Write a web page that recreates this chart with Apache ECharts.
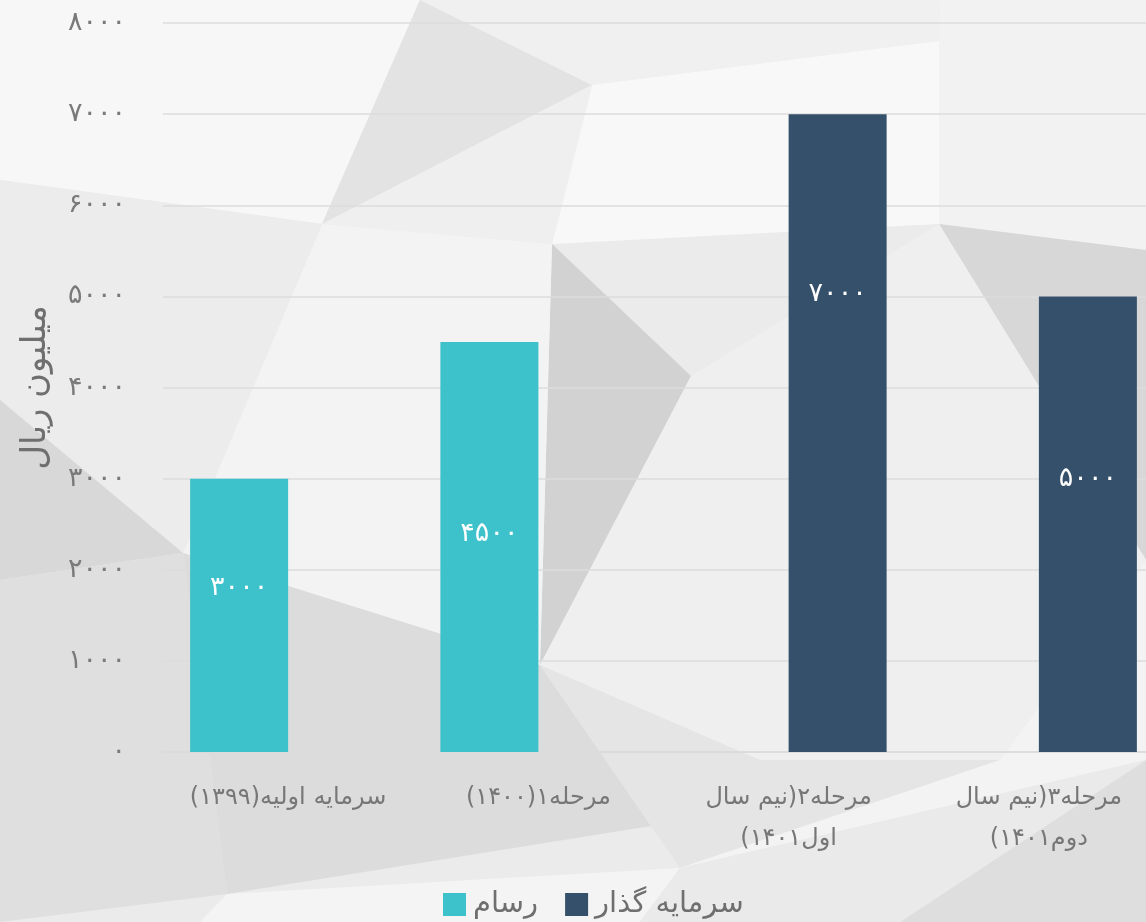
<!DOCTYPE html>
<html>
<head>
<meta charset="utf-8">
<script src="https://cdn.jsdelivr.net/npm/echarts@6/dist/echarts.min.js"></script>
<style>
html,body{margin:0;padding:0;background:#ebebeb;}
#chart{width:1146px;height:922px;}
</style>
</head>
<body>
<div id="chart" dir="rtl"></div>
<script>
const categories = ['سرمایه اولیه(۱۳۹۹)', 'مرحله۱(۱۴۰۰)', 'مرحله۲(نیم سال\nاول۱۴۰۱)', 'مرحله۳(نیم سال\nدوم۱۴۰۱)'];
const rasamValues = [3000, 4500, null, null];
const investorValues = [null, null, 7000, 5000];
const seriesNames = ['رسام', 'سرمایه گذار'];
const yAxisTitle = 'میلیون ریال';
const yMin = 0, yMax = 8000, yStep = 1000;

const faDigits = '۰۱۲۳۴۵۶۷۸۹';
function toFa(v){ return String(v).replace(/\d/g, d => faDigits[+d]); }

const FONT = "'DejaVu Sans', sans-serif";

// background decoration (low-poly pattern)
const bgPolys = [
  [[[0,0],[1146,0],[1146,922],[0,922]], '#ebebeb'],
  [[[0,0],[420,0],[322,224],[0,180]], '#f7f7f7'],
  [[[420,0],[592,85],[322,224]], '#e3e3e3'],
  [[[420,0],[940,0],[939,41],[592,85]], '#f0f0f0'],
  [[[940,0],[1146,0],[1146,250],[939,224],[939,41]], '#f2f2f2'],
  [[[592,85],[939,41],[939,224],[552,244]], '#f8f8f8'],
  [[[322,224],[552,244],[592,85]], '#efefef'],
  [[[552,244],[691,376],[540,665]], '#d2d2d2'],
  [[[322,224],[552,244],[540,665],[183,553]], '#f3f3f3'],
  [[[0,180],[322,224],[183,553],[0,400]], '#ececec'],
  [[[0,400],[183,553],[0,580]], '#d8d8d8'],
  [[[0,580],[183,553],[227,894],[0,922]], '#dfdfdf'],
  [[[939,224],[1146,250],[1146,560]], '#d7d7d7'],
  [[[691,376],[939,224],[1146,560],[1000,760],[760,760],[540,665]], '#efefef'],
  [[[183,553],[540,665],[651,826],[227,894]], '#dcdcdc'],
  [[[540,665],[760,760],[1000,760],[680,868],[651,826]], '#e5e5e5'],
  [[[1146,560],[1146,760],[680,868],[1000,760]], '#f3f3f3'],
  [[[1146,760],[1146,922],[900,922]], '#dedede'],
  [[[227,894],[680,868],[640,922],[200,922]], '#f4f4f4'],
  [[[680,868],[1146,760],[900,922],[640,922]], '#eaeaea']
];

const labelShift = { 0: -27, 1: -13, 2: -139, 3: -45 };
function buildData(values){
  return values.map((v, i) => v == null ? null : ({ value: v, label: { offset: [0, labelShift[i]] } }));
}

const chart = echarts.init(document.getElementById('chart'));
chart.setOption({
  backgroundColor: '#ebebeb',
  graphic: bgPolys.map(p => ({
    type: 'polygon', silent: true, z: -100,
    shape: { points: p[0] }, style: { fill: p[1] }
  })),
  grid: { left: 163, width: 1001, top: 23, bottom: 170, containLabel: false, outerBoundsMode: 'none' },
  legend: {
    data: seriesNames,
    top: 885, left: 438,
    itemWidth: 23, itemHeight: 23, itemGap: 27,
    icon: 'rect',
    textStyle: { fontFamily: FONT, fontSize: 29, color: '#6f6f6f', padding: [0, 0, 0, 2] }
  },
  xAxis: {
    type: 'category', data: categories,
    axisLine: { show: true, lineStyle: { color: '#dadada', width: 1.5 } },
    axisTick: { show: false },
    axisLabel: { fontFamily: FONT, fontSize: 24, color: '#777777', margin: 25, lineHeight: 41, interval: 0 }
  },
  yAxis: {
    type: 'value', min: yMin, max: yMax, interval: yStep,
    name: yAxisTitle, nameLocation: 'middle', nameGap: 110,
    nameTextStyle: { fontFamily: FONT, fontSize: 34, color: '#6f6f6f' },
    axisLine: { show: false }, axisTick: { show: false },
    axisLabel: { fontFamily: FONT, fontSize: 27, color: '#7a7a7a', margin: 37, formatter: v => toFa(v) },
    splitLine: { lineStyle: { color: '#dcdcdc', width: 1.5 } }
  },
  series: [
    {
      name: seriesNames[0], type: 'bar', data: buildData(rasamValues),
      barWidth: 98, barGap: '0%',
      itemStyle: { color: '#3dc1ca' },
      label: { show: true, position: 'inside', color: '#ffffff', fontFamily: FONT, fontSize: 27, formatter: p => toFa(p.value) }
    },
    {
      name: seriesNames[1], type: 'bar', data: buildData(investorValues),
      barWidth: 98, barGap: '0%',
      itemStyle: { color: '#35506b' },
      label: { show: true, position: 'inside', color: '#ffffff', fontFamily: FONT, fontSize: 27, formatter: p => toFa(p.value) }
    }
  ]
});
</script>
</body>
</html>
